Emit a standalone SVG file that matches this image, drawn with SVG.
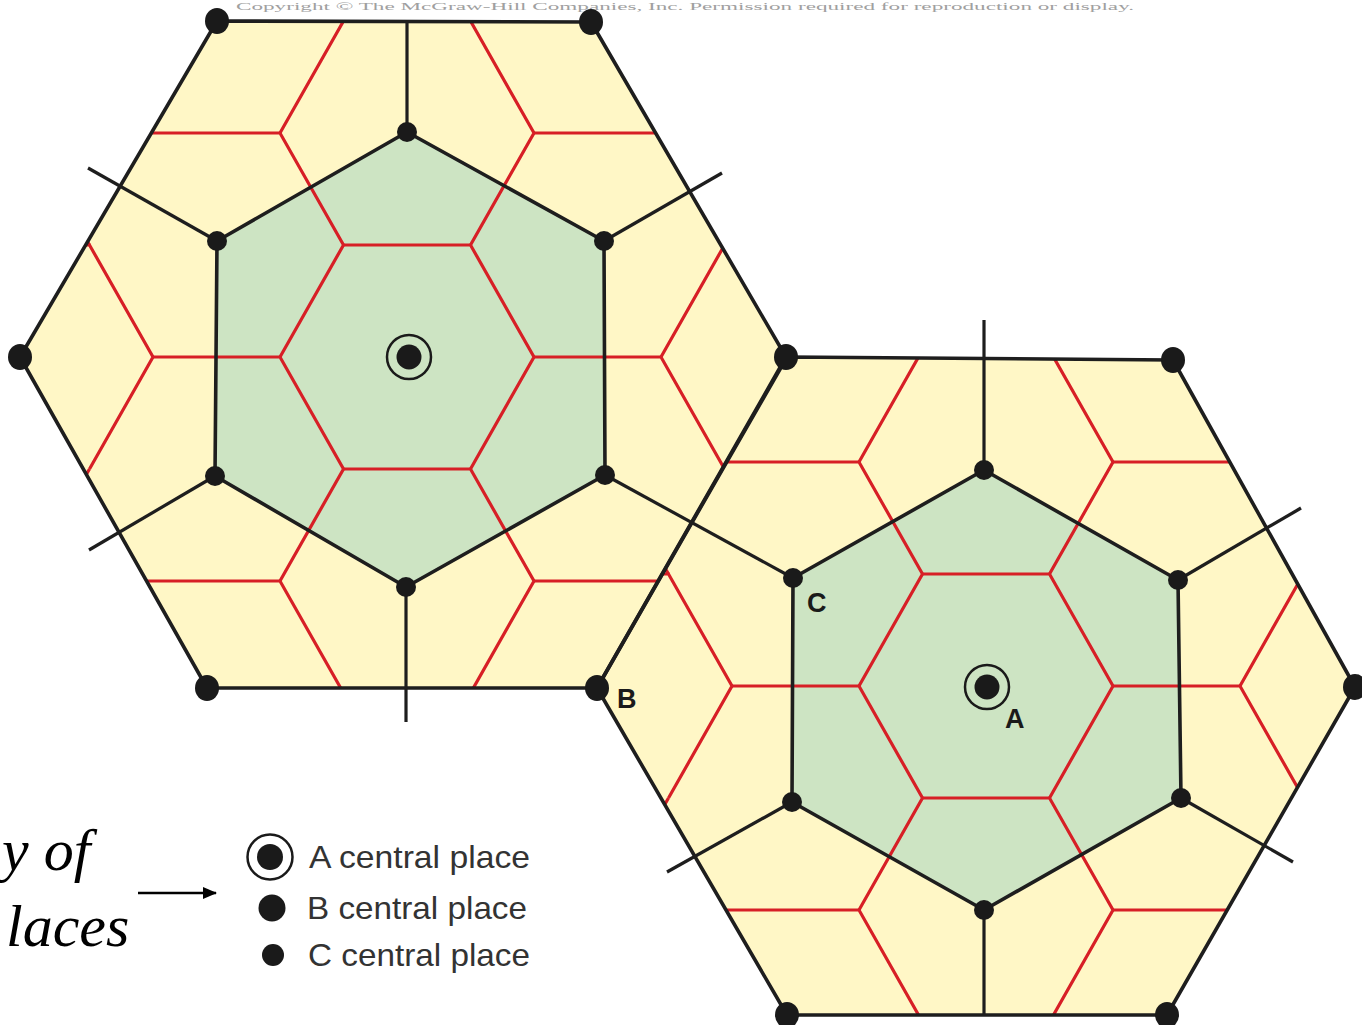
<svg xmlns="http://www.w3.org/2000/svg" width="1362" height="1025" viewBox="0 0 1362 1025">
<defs>
<style>
.yel{fill:#FFF7C6;stroke:none}
.grn{fill:#CDE4C3;stroke:none}
.red{fill:none;stroke:#D71F26;stroke-width:3.2;stroke-linejoin:miter}
.blk{fill:none;stroke:#1E1E1E;stroke-width:3.6;stroke-linecap:round;stroke-linejoin:round}
.spk{fill:none;stroke:#1E1E1E;stroke-width:3.2;stroke-linecap:butt}
.dB{fill:#1A1A1A}
.dC{fill:#1A1A1A}
.ring{fill:none;stroke:#1A1A1A;stroke-width:2.5}
.lbl{font-family:"Liberation Sans",Arial,sans-serif;font-weight:bold;font-size:27px;fill:#1A1A1A}
.leg{font-family:"Liberation Sans",Arial,sans-serif;font-size:32px;fill:#333333}
.ttl{font-family:"Liberation Serif","Times New Roman",serif;font-style:italic;font-size:60px;fill:#000}
</style>
<!-- three edges per cell (top, upper-right, lower-right); neighbours supply the rest -->
<path id="cell" d="M-63.5,-112 L63.5,-112 L127,0 L63.5,112"/>
<clipPath id="clipL"><polygon points="217,21 591,22 786,357 597,688 207,688 20,357"/></clipPath>
<clipPath id="clipR"><polygon points="787,357 1173,360 1355,687 1167,1015 787,1015 597,688"/></clipPath>
<marker id="arr" markerWidth="14" markerHeight="12" refX="13" refY="6" orient="auto" markerUnits="userSpaceOnUse">
<path d="M0,0 L14,6 L0,12 Z" fill="#000"/>
</marker>
</defs>
<rect x="0" y="0" width="1362" height="1025" fill="#FFFFFF"/>
<text x="236" y="10" font-family="Liberation Serif,serif" font-size="11" fill="#A0A0A0" textLength="898" lengthAdjust="spacingAndGlyphs">Copyright © The McGraw-Hill Companies, Inc. Permission required for reproduction or display.</text>

<g id="areas">
<polygon class="yel" points="217,21 591,22 786,357 597,688 207,688 20,357"/>
<polygon class="yel" points="787,357 1173,360 1355,687 1167,1015 787,1015 597,688"/>
<polygon class="grn" points="407,132 604,241 605,475 406,587 215,476 217,241"/>
<polygon class="grn" points="984,470 1178,580 1181,798 984,910 792,802 793,578"/>
</g>

<g id="market-areas-left" class="red" clip-path="url(#clipL)">
<use href="#cell" x="407" y="133"/><use href="#cell" x="407" y="357"/><use href="#cell" x="407" y="581"/>
<use href="#cell" x="216.5" y="21"/><use href="#cell" x="216.5" y="245"/><use href="#cell" x="216.5" y="469"/><use href="#cell" x="216.5" y="693"/>
<use href="#cell" x="597.5" y="21"/><use href="#cell" x="597.5" y="245"/><use href="#cell" x="597.5" y="469"/><use href="#cell" x="597.5" y="693"/>
<use href="#cell" x="26" y="357"/>
<path d="M89.5,469 L78,489 M89.5,245 L78,225 M153,581 L136,581 M153,133 L138,133"/>
</g>
<g id="market-areas-right" class="red" clip-path="url(#clipR)">
<use href="#cell" x="986" y="462"/><use href="#cell" x="986" y="686"/><use href="#cell" x="986" y="910"/>
<use href="#cell" x="795.5" y="350"/><use href="#cell" x="795.5" y="574"/><use href="#cell" x="795.5" y="798"/><use href="#cell" x="795.5" y="1022"/>
<use href="#cell" x="1176.5" y="350"/><use href="#cell" x="1176.5" y="574"/><use href="#cell" x="1176.5" y="798"/><use href="#cell" x="1176.5" y="1022"/>
<use href="#cell" x="605" y="686"/>
<path d="M668.5,574 L657,554 M668.5,798 L657,818 M732,462 L716,462 M732,910 L716,910"/>
</g>

<g id="connectors">
<polygon class="blk" points="217,21 591,22 786,357 597,688 207,688 20,357"/>
<polygon class="blk" points="787,357 1173,360 1355,687 1167,1015 787,1015 597,688"/>
<polygon class="blk" points="407,132 604,241 605,475 406,587 215,476 217,241"/>
<polygon class="blk" points="984,470 1178,580 1181,798 984,910 792,802 793,578"/>
<line class="spk" x1="407" y1="132" x2="407" y2="21"/>
<line class="spk" x1="604" y1="241" x2="722" y2="173"/>
<line class="spk" x1="217" y1="241" x2="88" y2="168"/>
<line class="spk" x1="215" y1="476" x2="89" y2="550"/>
<line class="spk" x1="605" y1="475" x2="793" y2="578"/>
<line class="spk" x1="406" y1="587" x2="406" y2="722"/>
<line class="spk" x1="984" y1="470" x2="984" y2="320"/>
<line class="spk" x1="1178" y1="580" x2="1301" y2="508"/>
<line class="spk" x1="1181" y1="798" x2="1293" y2="862"/>
<line class="spk" x1="792" y1="802" x2="667" y2="872"/>
<line class="spk" x1="984" y1="910" x2="984" y2="1015"/>
<line x1="138" y1="893" x2="216" y2="893" stroke="#000" stroke-width="2.5" marker-end="url(#arr)"/>
</g>

<g id="place-A-left"><circle class="ring" cx="409" cy="357" r="22"/><circle class="dB" cx="409" cy="357" r="12.5"/></g>
<g id="place-A-right"><circle class="ring" cx="987" cy="687" r="22"/><circle class="dB" cx="987" cy="687" r="12.5"/></g>

<g id="places-B">
<g id="B1"><ellipse class="dB" cx="217" cy="21" rx="12" ry="13"/></g>
<g id="B2"><ellipse class="dB" cx="591" cy="22" rx="12" ry="13"/></g>
<g id="B3"><ellipse class="dB" cx="786" cy="357" rx="12" ry="13"/></g>
<g id="B4"><ellipse class="dB" cx="597" cy="688" rx="12" ry="13"/></g>
<g id="B5"><ellipse class="dB" cx="207" cy="688" rx="12" ry="13"/></g>
<g id="B6"><ellipse class="dB" cx="20" cy="357" rx="12" ry="13"/></g>
<g id="B7"><ellipse class="dB" cx="1173" cy="360" rx="12" ry="13"/></g>
<g id="B8"><ellipse class="dB" cx="1355" cy="687" rx="12" ry="13"/></g>
<g id="B9"><ellipse class="dB" cx="1167" cy="1015" rx="12" ry="13"/></g>
<g id="B10"><ellipse class="dB" cx="787" cy="1015" rx="12" ry="13"/></g>
</g>

<g id="places-C">
<g id="C1"><circle class="dC" cx="407" cy="132" r="10"/></g>
<g id="C2"><circle class="dC" cx="604" cy="241" r="10"/></g>
<g id="C3"><circle class="dC" cx="605" cy="475" r="10"/></g>
<g id="C4"><circle class="dC" cx="406" cy="587" r="10"/></g>
<g id="C5"><circle class="dC" cx="215" cy="476" r="10"/></g>
<g id="C6"><circle class="dC" cx="217" cy="241" r="10"/></g>
<g id="C7"><circle class="dC" cx="984" cy="470" r="10"/></g>
<g id="C8"><circle class="dC" cx="1178" cy="580" r="10"/></g>
<g id="C9"><circle class="dC" cx="1181" cy="798" r="10"/></g>
<g id="C10"><circle class="dC" cx="984" cy="910" r="10"/></g>
<g id="C11"><circle class="dC" cx="792" cy="802" r="10"/></g>
<g id="C12"><circle class="dC" cx="793" cy="578" r="10"/></g>
</g>

<g id="labels">
<text class="lbl" x="617" y="708">B</text>
<text class="lbl" x="807" y="612">C</text>
<text class="lbl" x="1005" y="728">A</text>
</g>

<g id="legend">
<g id="legend-A"><circle class="ring" cx="270" cy="857" r="22.5"/><circle class="dB" cx="270" cy="857" r="13"/><text class="leg" x="309" y="868" textLength="221" lengthAdjust="spacingAndGlyphs">A central place</text></g>
<g id="legend-B"><circle class="dB" cx="272" cy="908" r="13.5"/><text class="leg" x="307" y="919" textLength="220" lengthAdjust="spacingAndGlyphs">B central place</text></g>
<g id="legend-C"><circle class="dC" cx="273" cy="955" r="11"/><text class="leg" x="308" y="966" textLength="222" lengthAdjust="spacingAndGlyphs">C central place</text></g>
</g>

<g id="title">
<text class="ttl" x="2" y="870">y of</text>
<text class="ttl" x="6" y="946">laces</text>
</g>
</svg>
